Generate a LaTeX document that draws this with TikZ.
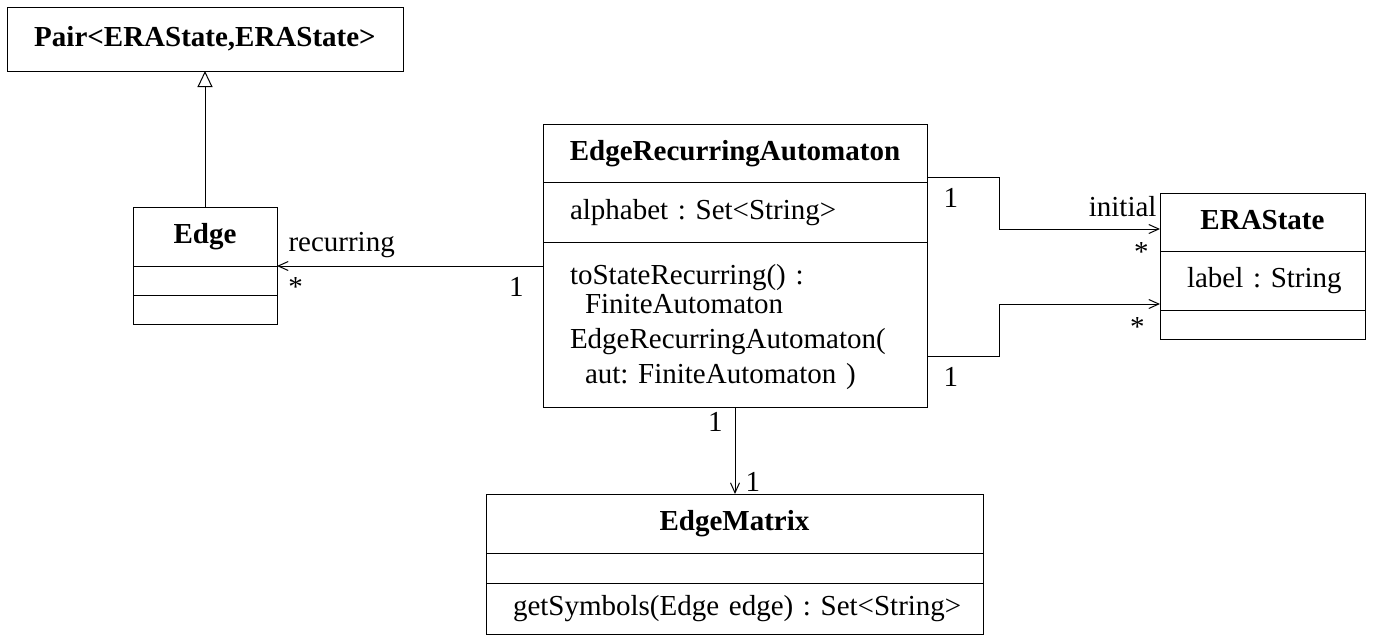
\documentclass[tikz,border=0pt]{standalone}
\usepackage{fontspec}
\setmainfont{Liberation Serif}
\usepackage{tikz}
\usetikzlibrary{positioning}
\usetikzlibrary{arrows.meta}

\newcommand{\umlfont}{\fontsize{29}{35}\selectfont\frenchspacing}

\begin{document}
\begin{tikzpicture}[x=1pt, y=-1pt, line width=1pt]
\tikzstyle{head} = [draw, outer sep=0pt, inner sep=0pt, font=\umlfont\bfseries, text height=20pt, text depth=6pt]
\tikzstyle{slot} = [draw, outer sep=0pt, inner xsep=27pt, inner ysep=0pt, align=left, font=\umlfont]
\tikzstyle{attr} = [slot, text height=20pt, text depth=6pt]
\tikzstyle{mult} = [inner sep=2pt, font=\umlfont]
\tikzstyle{line} = [draw, -{Straight Barb[length=10pt, width=9pt]}]
\tikzstyle{inherit} = [draw, -{Triangle[open, length=16pt, width=15pt]}]

\useasboundingbox (0,0) rectangle (1373,640);

% classes
\node [head, minimum width=396pt, minimum height=64pt] (pair) at (205,39) {Pair<ERAState,ERAState>};

\node [head, minimum width=144pt, minimum height=59pt] (edgetitle) at (205,236.5) {Edge};
\node [attr, text width=90pt, minimum height=29pt, below=0pt of edgetitle] (edgeattr) {};
\node [attr, text width=90pt, minimum height=29pt, below=0pt of edgeattr] (edgeops) {};

\node [head, minimum width=384pt, minimum height=58pt] (eratitle) at (735,153) {EdgeRecurringAutomaton};
\node [attr, text width=330pt, minimum height=60pt, below=0pt of eratitle] (eraattr) {\mbox{alphabet : Set<String>}};
\node [slot, text width=330pt, minimum height=165pt, below=0pt of eraattr] (eraops)
  {\rule{0pt}{26pt}toStateRecurring() :\\[-6pt]
   \hspace*{15pt}FiniteAutomaton\\
   \mbox{EdgeRecurringAutomaton(}\\
   \hspace*{15pt}aut: FiniteAutomaton )};

\node [head, minimum width=205pt, minimum height=58pt] (statetitle) at (1262.5,222) {ERAState};
\node [attr, text width=151pt, minimum height=59pt, below=0pt of statetitle] (stateattr) {\mbox{label : String}};
\node [attr, text width=151pt, minimum height=29pt, below=0pt of stateattr] (stateops) {};

\node [head, minimum width=497pt, minimum height=59pt] (matrixtitle) at (734.5,523.5) {EdgeMatrix};
\node [attr, text width=443pt, minimum height=30pt, below=0pt of matrixtitle] (matrixattr) {};
\node [attr, text width=443pt, minimum height=51pt, below=0pt of matrixattr] (matrixops) {\mbox{getSymbols(Edge edge) : Set<String>}};

% relations
\path [inherit] (edgetitle.north) -- (edgetitle.north |- pair.south);
\path [line] (eraops.west |- edgetitle.south) -- node[mult, pos=0.1, below=9pt] {1} node[mult, pos=0.93, below=9pt] {*} node[mult, pos=0.757, above=6pt] {recurring} (edgetitle.south east);
\path [line] ([yshift=-24pt]eratitle.east) -- node[mult, pos=0.33, below=9pt] {1} ++(72pt,0) |- node[mult, at end, anchor=south east, xshift=-1pt, yshift=10pt] {initial} node[mult, at end, anchor=north east, xshift=-9pt, yshift=-11pt] {*} ([yshift=-7pt]statetitle.west);
\path [line] ([yshift=-31.5pt]eraops.east) -- node[mult, pos=0.33, below=9pt] {1} ++(72pt,0) |- node[mult, at end, anchor=north east, xshift=-13pt, yshift=-11pt] {*} ([yshift=6pt]stateattr.south west);
\path [line] (eraops.south) -- node[mult, at start, anchor=north east, xshift=-10pt, yshift=-3pt] {1} node[mult, at end, anchor=south west, xshift=8pt] {1} (eraops.south |- matrixtitle.north);
\end{tikzpicture}
\end{document}
